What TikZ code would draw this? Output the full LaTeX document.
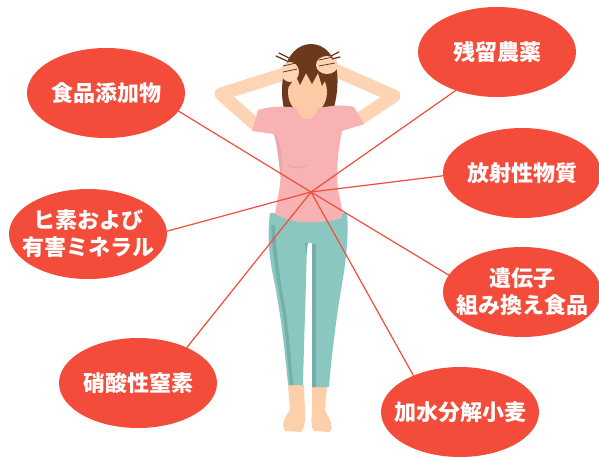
\documentclass[tikz,border=0pt]{standalone}
\usepackage{fontspec}
\newfontfamily\jp{Noto Sans CJK JP}
\usetikzlibrary{shapes.geometric}
\definecolor{bubblered}{HTML}{F34C3B}
\definecolor{skin}{HTML}{FCCBA5}
\definecolor{armskin}{HTML}{FDD5B5}
\definecolor{hair}{HTML}{6B3A1C}
\definecolor{shirt}{HTML}{F9B2B3}
\definecolor{shirtshade}{HTML}{EDA7AA}
\definecolor{legging}{HTML}{8BC7C1}
\definecolor{leggingshade}{HTML}{74AFA9}
\definecolor{foot}{HTML}{FDD0AA}
\begin{document}
\begin{tikzpicture}[x=1pt,y=-1pt,
    bubble/.style={ellipse, fill=bubblered, minimum width=158pt, minimum height=90pt, inner sep=0pt, outer sep=0pt},
    caption/.style={text=white, align=center, inner sep=0pt, font=\jp\bfseries\fontsize{22}{27}\selectfont},
    link/.style={draw=bubblered, line width=1.2pt},
    arm/.style={draw=armskin, line width=13pt, line join=round, line cap=round},
    strand/.style={draw=hair, line width=1.3pt, line cap=round}]
    \useasboundingbox (0,0) rectangle (599,456);

    \draw[arm] (256,125) -- (221,94) -- (284,74);
    \draw[arm] (358,120) -- (394,96) -- (330,68);

    \fill[hair] (287,118) .. controls (281,104) and (281,86) .. (284,72) .. controls (287,55) and (298,44) .. (311,44) .. controls (325,44) and (335,56) .. (337,72) .. controls (339,88) and (335,106) .. (331,118) -- (326,110) -- (322,116) -- (316,100) -- (298,100) -- (293,116) -- (291,108) -- cycle;
    \fill[skin] (298,104) rectangle (317,126);
    \fill[skin] (307.5,92) ellipse [x radius=19.5, y radius=23];
    \fill[hair] (285,92) .. controls (284,70) and (296,60) .. (310,60) .. controls (324,60) and (332,70) .. (331,90) -- (326,79) -- (322,86) -- (318,73) -- (312,84) -- (306,73) -- (300,85) -- (296,76) -- cycle;

    \fill[armskin] (290,72) ellipse [x radius=9, y radius=10];
    \fill[armskin] (327,65) ellipse [x radius=11, y radius=9];
    \draw[strand] (276,56) -- (287,61) (279,53) -- (289,58) (331,56) -- (339,52) (332,59) -- (340,57);
    \draw[hair, line width=0.8pt] (283,66) -- (296,63) (283,72) -- (297,69) (319,60) -- (333,57) (319,66) -- (335,63);

    \fill[foot] (288,385) -- (290,410) .. controls (284,418) and (281,426) .. (285,431) -- (301,432) .. controls (305,428) and (305,420) .. (305,412) -- (304,385) -- cycle;
    \fill[foot] (312,387) -- (312,413) .. controls (311,420) and (311,428) .. (314,431) -- (330,432) .. controls (334,428) and (330,420) .. (325,410) -- (327,387) -- cycle;

    \fill[legging] (270,213) -- (347,213) .. controls (349,235) and (346,262) .. (341,290) .. controls (336,320) and (331,360) .. (329,387) -- (312,387) .. controls (312,340) and (312,290) .. (312,243) -- (307,243) .. controls (306,290) and (304,340) .. (303,385) -- (288,385) .. controls (285,350) and (280,310) .. (274,280) .. controls (269,258) and (267,235) .. (270,213) -- cycle;
    \fill[leggingshade] (271,225) .. controls (272,255) and (278,285) .. (283,315) .. controls (286,340) and (288,365) .. (290,385) -- (293,385) .. controls (291,360) and (289,335) .. (286,312) .. controls (281,285) and (276,255) .. (275,225) -- cycle;
    \fill[leggingshade] (312,244) -- (316,244) .. controls (316,290) and (316,340) .. (316,387) -- (312,387) -- cycle;
    \fill[leggingshade] (305,243) -- (308,243) -- (306,255) -- cycle;

    \fill[shirt] (252,131) -- (258,110) .. controls (270,106) and (285,106) .. (297,108) .. controls (300,123) and (314,123) .. (318,108) .. controls (330,106) and (345,104) .. (354,107) -- (364,124) -- (342,131) .. controls (338,150) and (336,170) .. (338,190) .. controls (340,200) and (343,210) .. (342,218) .. controls (320,224) and (295,225) .. (275,214) .. controls (278,195) and (283,175) .. (280,160) .. controls (278,148) and (276,140) .. (274,134) -- cycle;
    \fill[shirtshade] (284,162) .. controls (292,168) and (302,168) .. (310,163) .. controls (302,171) and (291,170) .. (284,162) -- cycle;
    \fill[shirtshade] (277,136) .. controls (282,150) and (284,165) .. (281,180) .. controls (279,165) and (278,150) .. (274,134) -- cycle;

    \coordinate (hub) at (311,192);

    \node[bubble, label={[caption]center:食品添加物}] (add) at (106,93) {};
    \node[bubble, label={[caption]center:ヒ素および\\有害ミネラル}] (arsen) at (88,234) {};
    \node[bubble, label={[caption]center:硝酸性窒素}] (nitr) at (138,383) {};
    \node[bubble, label={[caption]center:残留農薬}] (pest) at (497,52) {};
    \node[bubble, label={[caption]center:放射性物質}] (rad) at (522,173) {};
    \node[bubble, label={[caption]center:遺伝子\\組み換え食品}] (gmo) at (522,292) {};
    \node[bubble, label={[caption]center:加水分解小麦}] (wheat) at (460,412) {};

    \draw[link] (hub) -- (add.-14);
    \draw[link] (hub) -- (arsen.2);
    \draw[link] (hub) -- (nitr.36);
    \draw[link] (hub) -- (pest.-137);
    \draw[link] (hub) -- (rad.182);
    \draw[link] (hub) -- (gmo.167);
    \draw[link] (hub) -- (wheat.142);
\end{tikzpicture}
\end{document}
